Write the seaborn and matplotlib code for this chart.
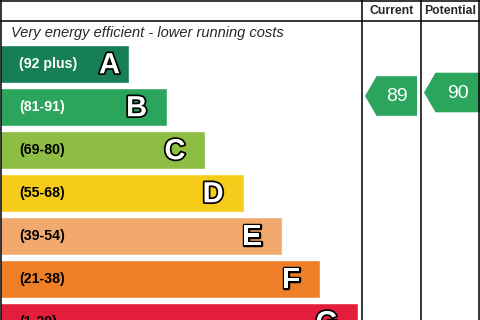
import numpy as np
import pandas as pd
import matplotlib
matplotlib.use("Agg")
import matplotlib.pyplot as plt
import matplotlib.patheffects as pe
from matplotlib.patches import Polygon
import seaborn as sns

# EPC bands, top (best) to bottom
bands = ["A", "B", "C", "D", "E", "F", "G"]
ranges = ["(92 plus)", "(81-91)", "(69-80)", "(55-68)", "(39-54)", "(21-38)", "(1-20)"]
band_colors = ["#177f56", "#2ba55b", "#8dbd42", "#f5cc19", "#f2a96d", "#ee7f28", "#e31e3d"]
range_text_colors = ["white", "white", "black", "black", "black", "black", "black"]
header_labels = ["Current", "Potential"]
scores = [89, 90]
top_note = "Very energy efficient - lower running costs"

sns.set_style("white")
plt.rcParams["font.family"] = ["Liberation Sans", "DejaVu Sans"]

W, H = 480, 320
fig = plt.figure(figsize=(W / 100, H / 100), dpi=100)

# bars: pixel-like x, one category step = 43 px in y
df = pd.DataFrame({"band": bands,
                   "length": [129 + 38.2 * i for i in range(len(bands))]})
ax = fig.add_axes([0, 0, 1, 1])
sns.barplot(data=df, y="band", x="length", hue="band", palette=band_colors,
            orient="h", width=0.88, saturation=1, legend=False, ax=ax)
ax.set_xlim(0, W)
ax.set_ylim(-1.498 + H / 43, -1.498)
ax.axis("off")

outline = [pe.withStroke(linewidth=2.5, foreground="black")]
for i, (b, r) in enumerate(zip(bands, ranges)):
    end = df["length"][i]
    ax.text(19, i, r, color=range_text_colors[i], fontsize=10.2, fontweight="bold",
            va="center", ha="left")
    gap = 9 if i == 0 else 20
    ax.text(end - gap, i + 0.02, b, color="white", fontsize=21, fontweight="bold",
            va="center", ha="right", path_effects=outline)

# frame, headers and score arrows in pixel coordinates
ov = fig.add_axes([0, 0, 1, 1], facecolor="none")
ov.set_xlim(0, W)
ov.set_ylim(H, 0)
ov.axis("off")

lw = 1.1
ov.plot([0, W], [0.5, 0.5], color="black", lw=lw)
ov.plot([0, W], [20.5, 20.5], color="black", lw=lw)
ov.plot([1, 1], [0, H], color="black", lw=lw)
cols = [362, 421, 479]
for x in cols:
    ov.plot([x, x], [0, H], color="black", lw=lw)

for j, lab in enumerate(header_labels):
    ov.text((cols[j] + cols[j + 1]) / 2, 10.5, lab, fontsize=8.8, fontweight="bold",
            ha="center", va="center")

ov.text(11, 33, top_note, fontsize=10.5, style="italic", ha="left", va="center")

arrow_color = band_colors[1]
for j, s in enumerate(scores):
    yc = 96 - (s - 89) * 3.5
    left = cols[j] + 3
    right = cols[j + 1] - 4 if j == 0 else W
    h = 19.8
    pts = [(left, yc), (left + 11.5, yc - h), (right, yc - h),
           (right, yc + h), (left + 11.5, yc + h)]
    ov.add_patch(Polygon(pts, closed=True, facecolor=arrow_color, edgecolor="none"))
    ov.text((left + 11.5 + right) / 2, yc + 0.5, str(s), color="white", fontsize=14,
            ha="center", va="center")

fig.savefig("out.png", dpi=100)
